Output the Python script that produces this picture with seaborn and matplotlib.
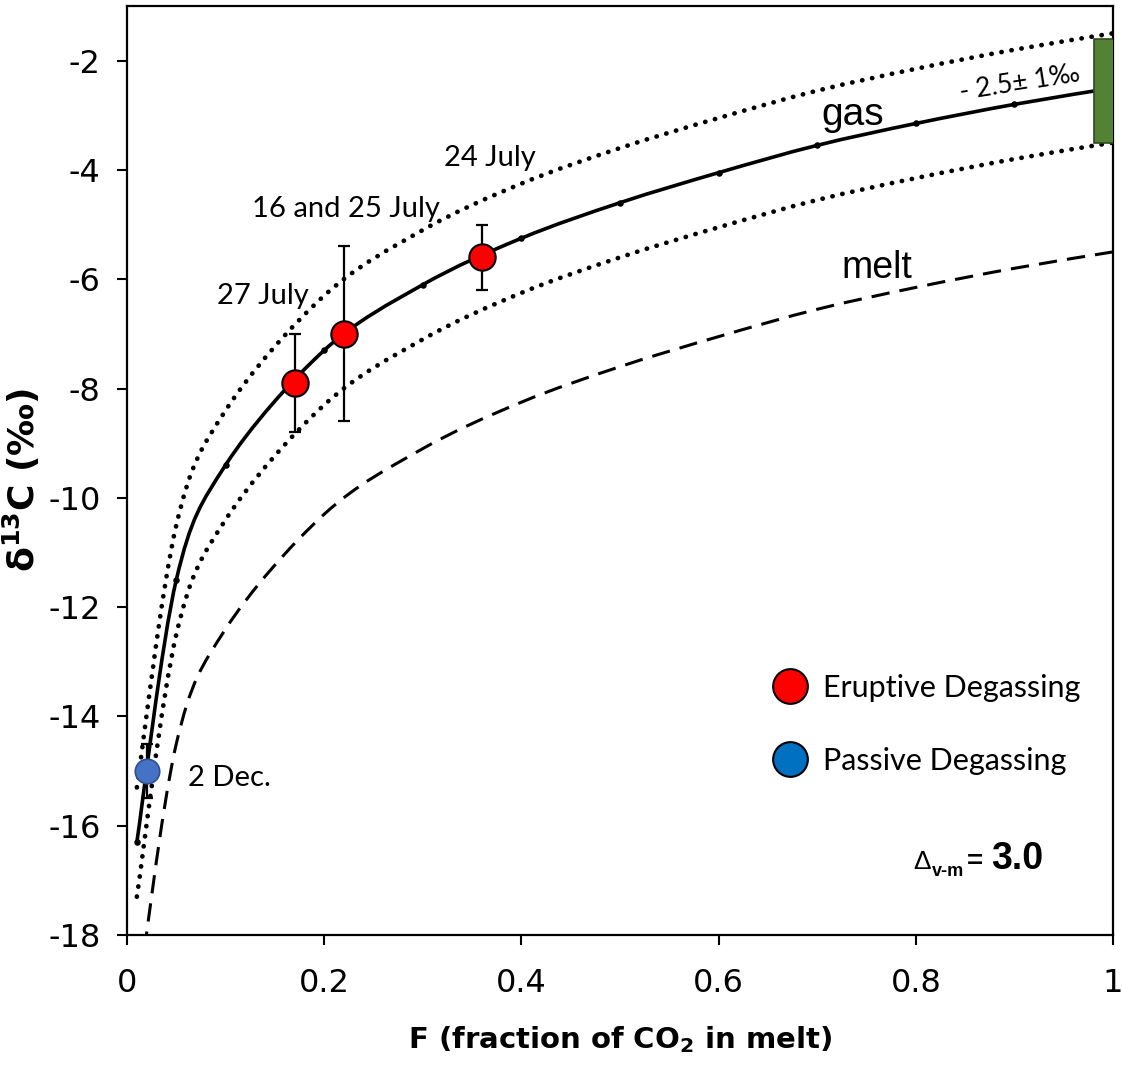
import numpy as np
import matplotlib
matplotlib.use("Agg")
import matplotlib.pyplot as plt
import seaborn as sns
from matplotlib.path import Path
from matplotlib.patches import PathPatch, Rectangle
from matplotlib.lines import Line2D

# model curves at the Excel data points
F = [0.01, 0.05, 0.1, 0.2, 0.3, 0.4, 0.5, 0.6, 0.7, 0.8, 0.9, 1.0]
gas = [-16.3, -11.5, -9.4, -7.3, -6.1, -5.25, -4.6, -4.05, -3.55, -3.15, -2.8, -2.5]
gas_hi = [-15.3, -10.5, -8.4, -6.3, -5.1, -4.25, -3.6, -3.05, -2.55, -2.15, -1.8, -1.5]
gas_lo = [-17.3, -12.5, -10.4, -8.3, -7.1, -6.25, -5.6, -5.05, -4.55, -4.15, -3.8, -3.5]
melt = [-19.3, -14.5, -12.4, -10.3, -9.1, -8.25, -7.6, -7.05, -6.55, -6.15, -5.8, -5.5]

# samples
eruptive_F = [0.17, 0.22, 0.36]
eruptive_d13c = [-7.9, -7.0, -5.6]
eruptive_err = [0.9, 1.6, 0.6]
eruptive_dates = ["27 July", "16 and 25 July", "24 July"]

passive_F = [0.02]
passive_d13c = [-15.0]
passive_err = [0.5]
passive_dates = ["2 Dec."]

source_lo, source_hi = -3.5, -1.6

sns.set_style("ticks")
plt.rcParams["font.family"] = ["DejaVu Sans"]
plt.rcParams["mathtext.fontset"] = "dejavusans"
for k in ["text.color", "axes.labelcolor", "xtick.color", "ytick.color",
          "xtick.labelcolor", "ytick.labelcolor"]:
    plt.rcParams[k] = "black"


def smooth_path(x, y):
    # Excel style smoothed line (Catmull-Rom as cubic Bezier)
    pts = np.column_stack([x, y])
    n = len(pts)
    verts = [pts[0]]
    codes = [Path.MOVETO]
    for i in range(n - 1):
        p0 = pts[max(i - 1, 0)]
        p1, p2 = pts[i], pts[i + 1]
        p3 = pts[min(i + 2, n - 1)]
        verts += [p1 + (p2 - p0) / 6, p2 - (p3 - p1) / 6, p2]
        codes += [Path.CURVE4] * 3
    return Path(verts, codes)


fig = plt.figure(figsize=(11.22, 10.70), dpi=100)
ax = fig.add_axes([0.1132, 0.1262, 0.8788, 0.8682])

dotted = (0, (0.05, 2.1))
for ys, ls, lw in [(gas_hi, dotted, 3.4), (gas_lo, dotted, 3.4),
                   (melt, (0, (6, 3.3)), 2.2), (gas, "-", 2.6)]:
    patch = PathPatch(smooth_path(F, ys), facecolor="none", edgecolor="black",
                      linewidth=lw, linestyle=ls, capstyle="round" if ls is dotted else "butt",
                      zorder=2)
    ax.add_patch(patch)

# small dots at the gas data points
sns.scatterplot(x=F, y=gas, ax=ax, color="black", s=22, linewidth=0, zorder=3)

# green box for the source value
ax.add_patch(Rectangle((0.981, source_lo), 0.03, source_hi - source_lo,
                       facecolor="#548235", edgecolor="#2E4A1E", linewidth=1.2, zorder=4))

# error bars
ax.errorbar(eruptive_F, eruptive_d13c, yerr=eruptive_err, fmt="none", ecolor="black",
            elinewidth=1.6, capsize=4.5, capthick=1.6, zorder=5)
ax.errorbar(passive_F, passive_d13c, yerr=passive_err, fmt="none", ecolor="black",
            elinewidth=1.6, capsize=4.5, capthick=1.6, zorder=5)

sns.scatterplot(x=eruptive_F, y=eruptive_d13c, ax=ax, color="#FF0000", s=360,
                edgecolor="black", linewidth=1.5, zorder=6)
sns.scatterplot(x=passive_F, y=passive_d13c, ax=ax, color="#4472C4", s=310,
                edgecolor="#2F4F8F", linewidth=1.2, zorder=6)

ax.set_xlim(0, 1)
ax.set_ylim(-18, -1)
ax.set_xticks([0, 0.2, 0.4, 0.6, 0.8, 1.0])
ax.set_xticklabels(["0", "0.2", "0.4", "0.6", "0.8", "1"])
ax.set_yticks(np.arange(-18, -1, 2))
ax.set_yticklabels([str(v) for v in range(-18, -1, 2)])
ax.tick_params(axis="both", direction="out", length=7, width=1.5, labelsize=23,
               color="black", labelcolor="black")
ax.tick_params(axis="x", pad=17)
ax.tick_params(axis="y", pad=12)
for sp in ax.spines.values():
    sp.set_linewidth(1.6)
    sp.set_color("black")
    sp.set_visible(True)

ax.set_xlabel(r"F (fraction of CO$_\mathbf{2}$ in melt)", fontsize=21, fontweight="bold", labelpad=18)
ax.set_ylabel("δ$^\\mathbf{13}$C (‰)", fontsize=26, fontweight="bold")
ax.yaxis.set_label_coords(-0.086, 0.49)

# curve labels
ax.text(0.736, -3.17, "gas", fontsize=28, family="Liberation Sans", ha="center", va="baseline")
ax.text(0.761, -5.98, "melt", fontsize=27, family="Liberation Sans", ha="center", va="baseline")
ax.text(0.905, -2.42, "- 2.5± 1‰", fontsize=19, family="Lato", ha="center", va="center", rotation=9)

# sample dates
date_pos = [(0.138, -6.31), (0.222, -4.72), (0.368, -3.78)]
for (x, y), lab in zip(date_pos, eruptive_dates):
    ax.text(x, y, lab, fontsize=21, family="Lato", ha="center", va="center")
ax.text(0.062, -15.12, passive_dates[0], fontsize=21, family="Lato", ha="left", va="center")

# Delta annotation
ax.text(0.797, -16.79, "Δ", fontsize=19, family="Liberation Sans", ha="left", va="baseline")
ax.text(0.816, -16.93, "v-m", fontsize=13, family="Liberation Sans", fontweight="bold",
        ha="left", va="baseline")
ax.text(0.852, -16.79, "=", fontsize=20, family="Liberation Sans", fontweight="bold",
        ha="left", va="baseline")
ax.text(0.876, -16.79, "3.0", fontsize=27, family="Liberation Sans", fontweight="bold",
        ha="left", va="baseline")

handles = [Line2D([], [], marker="o", ls="", ms=25, mfc="#FF0000", mec="black", mew=1.5),
           Line2D([], [], marker="o", ls="", ms=25, mfc="#0070C0", mec="black", mew=1.5)]
ax.legend(handles, ["Eruptive Degassing", "Passive Degassing"], loc="upper left",
          bbox_to_anchor=(0.655, 0.281), frameon=False, prop={"family": "Lato", "size": 22},
          handlelength=1.1, handletextpad=0.55, labelspacing=1.46, borderpad=0, borderaxespad=0,
          labelcolor="black")

fig.savefig("out.png", dpi=100)
